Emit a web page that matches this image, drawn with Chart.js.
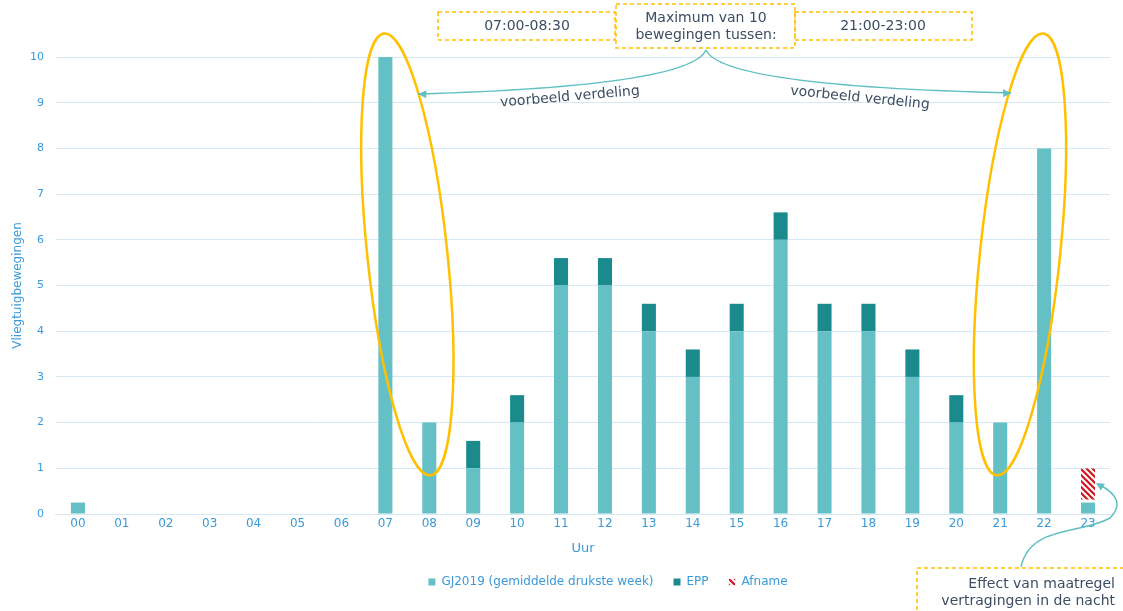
<!DOCTYPE html>
<html>
<head>
<meta charset="utf-8">
<script src="https://cdn.jsdelivr.net/npm/chart.js@4.4.1/dist/chart.umd.min.js"></script>
<style>
  html, body { margin: 0; padding: 0; background: #fff; }
  #wrap { width: 1123px; height: 611px; position: relative; }
</style>
</head>
<body>
<div id="wrap"><canvas id="uurChart"></canvas></div>
<script>
var hours = ["00","01","02","03","04","05","06","07","08","09","10","11",
             "12","13","14","15","16","17","18","19","20","21","22","23"];
var gj2019 = [0.25,0,0,0,0,0,0,10,2,1,2,5,5,4,3,4,6,4,4,3,2,2,8,0.25];
var epp    = [0,0,0,0,0,0,0,0,0,0.6,0.6,0.6,0.6,0.6,0.6,0.6,0.6,0.6,0.6,0.6,0.6,0,0,0];
var afname = [0,0,0,0,0,0,0,0,0,0,0,0,0,0,0,0,0,0,0,0,0,0,0,0.75];
var yTicks = [0,1,2,3,4,5,6,7,8,9,10];

var blue = '#3a9ad9';
var slate = '#3d4d63';
var yellow = '#ffc000';
var teal = '#5fbfc2';

function hatch() {
  var c = document.createElement('canvas');
  c.width = 6; c.height = 6;
  var g = c.getContext('2d');
  g.fillStyle = '#fff';
  g.fillRect(0, 0, 6, 6);
  g.strokeStyle = '#d2141e';
  g.lineWidth = 2.2;
  g.beginPath();
  g.moveTo(-1, -1); g.lineTo(7, 7);
  g.moveTo(-4, 2); g.lineTo(2, 8);
  g.moveTo(2, -4); g.lineTo(8, 2);
  g.stroke();
  return g.createPattern(c, 'repeat');
}

function arrowHead(ctx, x, y, ang) {
  ctx.save();
  ctx.translate(x, y);
  ctx.rotate(ang);
  ctx.beginPath();
  ctx.moveTo(0, 0);
  ctx.lineTo(-8, -4);
  ctx.lineTo(-8, 4);
  ctx.closePath();
  ctx.fill();
  ctx.restore();
}

function dashBox(ctx, x, y, w, h) {
  ctx.save();
  ctx.strokeStyle = yellow;
  ctx.lineWidth = 1.5;
  ctx.setLineDash([4, 3]);
  ctx.strokeRect(x, y, w, h);
  ctx.restore();
}

var notes = {
  id: 'notes',
  afterLayout: function(chart) {
    // legend sits a bit right of centre in the original
    chart.legend.left += 44;
    chart.legend.right += 44;
  },
  afterDraw: function(chart) {
    var ctx = chart.ctx;
    var xs = chart.scales.x, ys = chart.scales.y;
    var unit = ys.getPixelForValue(0) - ys.getPixelForValue(1);

    // y axis title
    ctx.save();
    ctx.fillStyle = blue;
    ctx.font = '12px "DejaVu Sans"';
    ctx.textAlign = 'center';
    ctx.textBaseline = 'middle';
    ctx.translate(18, (chart.chartArea.top + chart.chartArea.bottom) / 2);
    ctx.rotate(-Math.PI / 2);
    ctx.fillText('Vliegtuigbewegingen', 0, 0);
    ctx.restore();

    // ellipses
    ctx.save();
    ctx.strokeStyle = yellow;
    ctx.lineWidth = 2.5;
    [[7.5, -0.105], [21.45, 0.105]].forEach(function(e) {
      ctx.beginPath();
      ctx.ellipse(xs.getPixelForValue(e[0]), ys.getPixelForValue(5.68),
                  40, unit * 4.86, e[1], 0, Math.PI * 2);
      ctx.stroke();
    });
    ctx.restore();

    // top boxes
    dashBox(ctx, 438, 12, 177, 28);
    dashBox(ctx, 616, 4, 179, 44);
    dashBox(ctx, 795, 12, 177, 28);
    ctx.save();
    ctx.fillStyle = slate;
    ctx.font = '14px "DejaVu Sans"';
    ctx.textAlign = 'center';
    ctx.textBaseline = 'middle';
    ctx.fillText('07:00-08:30', 527, 26);
    ctx.fillText('Maximum van 10', 706, 18);
    ctx.fillText('bewegingen tussen:', 706, 35);
    ctx.fillText('21:00-23:00', 883, 26);

    // bracket lines
    ctx.strokeStyle = teal;
    ctx.fillStyle = teal;
    ctx.lineWidth = 1.5;
    var lx = xs.getPixelForValue(7.75), rx = xs.getPixelForValue(21.25);
    ctx.beginPath();
    ctx.moveTo(706, 50);
    ctx.quadraticCurveTo(690, 86, lx, 94);
    ctx.moveTo(706, 50);
    ctx.quadraticCurveTo(722, 86, rx, 93);
    ctx.stroke();
    arrowHead(ctx, lx, 94, Math.PI + 0.03);
    arrowHead(ctx, rx, 93, -0.03);

    ctx.fillStyle = slate;
    ctx.font = '14px "DejaVu Sans"';
    ctx.save();
    ctx.translate(570, 97);
    ctx.rotate(-0.085);
    ctx.fillText('voorbeeld verdeling', 0, 0);
    ctx.restore();
    ctx.save();
    ctx.translate(860, 98);
    ctx.rotate(0.1);
    ctx.fillText('voorbeeld verdeling', 0, 0);
    ctx.restore();

    // bottom right note
    dashBox(ctx, 917, 568, 220, 60);
    ctx.textAlign = 'right';
    ctx.fillText('Effect van maatregel', 1115, 584);
    ctx.fillText('vertragingen in de nacht', 1115, 601);
    ctx.strokeStyle = teal;
    ctx.fillStyle = teal;
    ctx.beginPath();
    ctx.moveTo(1021, 567);
    ctx.bezierCurveTo(1030, 525, 1080, 535, 1110, 518);
    ctx.quadraticCurveTo(1128, 500, 1100, 485);
    ctx.stroke();
    arrowHead(ctx, 1096, 483, Math.PI + 0.55);
    ctx.restore();
  }
};

var ctx = document.getElementById('uurChart').getContext('2d');
new Chart(ctx, {
  type: 'bar',
  data: {
    labels: hours,
    datasets: [
      { label: 'GJ2019 (gemiddelde drukste week)', data: gj2019, backgroundColor: '#64c0c4' },
      { label: 'EPP', data: epp, backgroundColor: '#1a8a8c' },
      { label: 'Afname', data: afname, backgroundColor: hatch(),
        borderColor: '#fff', borderWidth: { bottom: 3 }, borderSkipped: false }
    ]
  },
  options: {
    responsive: true,
    maintainAspectRatio: false,
    animation: false,
    layout: { padding: { top: 57, right: 13, left: 18, bottom: 13 } },
    datasets: { bar: { categoryPercentage: 1, barPercentage: 0.32 } },
    plugins: {
      tooltip: { enabled: false },
      legend: {
        position: 'bottom',
        labels: {
          color: blue, boxWidth: 7, boxHeight: 7, padding: 20,
          font: { family: 'DejaVu Sans', size: 12 }
        }
      }
    },
    scales: {
      x: {
        stacked: true,
        grid: { display: false, drawTicks: false },
        border: { color: '#d5e8f5' },
        ticks: { color: blue, font: { family: 'DejaVu Sans', size: 12 }, padding: 3 },
        title: { display: true, text: 'Uur', color: blue, font: { family: 'DejaVu Sans', size: 13 },
                 padding: { top: 6, bottom: 0 } }
      },
      y: {
        stacked: true,
        min: 0, max: 10,
        afterBuildTicks: function(s) { s.ticks = yTicks.map(function(v) { return { value: v }; }); },
        grid: { color: '#d5e8f5', drawTicks: false },
        border: { display: false },
        ticks: { color: blue, font: { family: 'DejaVu Sans', size: 11 }, padding: 12 }
      }
    }
  },
  plugins: [notes]
});
</script>
</body>
</html>
